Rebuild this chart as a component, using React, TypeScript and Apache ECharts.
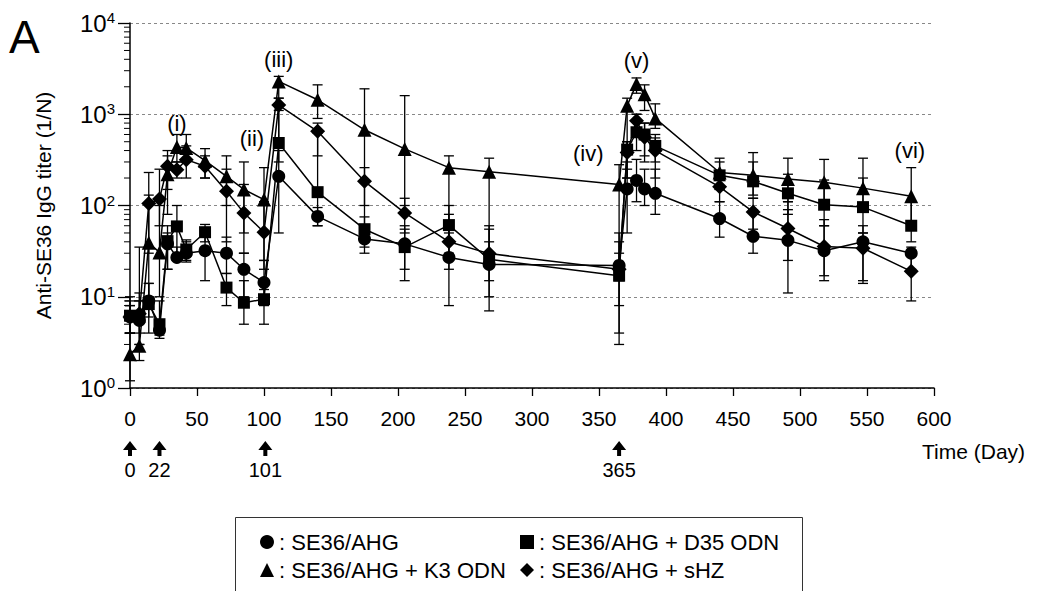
import React, { useEffect, useRef } from "react";
import * as echarts from "echarts";

const days = [0, 7, 14, 22, 28, 35, 42, 56, 72, 85, 100, 111, 140, 175, 205, 238, 268, 365, 371, 378, 384, 392, 440, 465, 491, 518, 547, 583];

// SE36/AHG (circle)
const ahgMean = [6, 5.5, 9, 4.3, 38, 27, 30, 32, 30, 20, 14.3, 209, 76, 43, 38, 27, 22.6, 22, 152, 188, 152, 136, 72, 46, 41.5, 32, 40, 30];
const ahgLow = [4, 3, 6, 3.5, 20, 25, 25, 15, 18, 10, 8, 50, 60, 30, 15, 8, 7, 4, 50, 110, 100, 80, 45, 30, 11, 17, 14, 20];
const ahgHigh = [8, 9, 14, 5, 50, 35, 40, 45, 45, 30, 25, 400, 95, 55, 55, 50, 40, 30, 250, 320, 250, 250, 110, 90, 110, 60, 60, 35];

// SE36/AHG + D35 ODN (square)
const d35Mean = [6.2, 6, 8.3, 5, 40.7, 59, 33, 51, 12.6, 8.6, 9.4, 484, 140, 55, 35, 61, 25.7, 17, 410, 635, 600, 450, 214, 184, 136, 102, 96, 60];
const d35Low = [4, 3, 4, 3.8, 20, 25, 24, 40, 8, 5, 5, 300, 60, 35, 20, 30, 10, 3, 200, 400, 350, 300, 150, 120, 80, 60, 50, 40];
const d35High = [10, 9, 14, 9, 60, 100, 42, 62, 18, 15, 12, 1100, 620, 75, 60, 100, 60, 50, 500, 1000, 800, 600, 300, 300, 220, 190, 200, 110];

// SE36/AHG + K3 ODN (triangle)
const k3Mean = [2.35, 2.9, 39, 30.6, 220, 437, 428, 310, 209, 150, 116, 2290, 1440, 676, 417, 260, 235, 170, 1240, 2150, 1660, 900, 230, 214, 195, 180, 155, 126];
const k3Low = [1.2, 2, 10, 10, 80, 300, 300, 200, 100, 50, 20, 1500, 900, 100, 100, 40, 30, 15, 300, 1700, 1100, 700, 150, 130, 110, 110, 90, 60];
const k3High = [8, 35, 130, 100, 350, 600, 600, 420, 350, 300, 260, 2600, 2100, 1900, 1600, 350, 330, 280, 1500, 2500, 2100, 1300, 330, 380, 330, 320, 330, 260];

// SE36/AHG + sHZ (diamond)
const shzMean = [6, 6.5, 105, 118, 269, 247, 318, 269, 143, 83, 51, 1260, 650, 184, 83, 40, 29.7, 20, 380, 850, 560, 400, 160, 85, 56, 35.5, 34, 19];
const shzLow = [4, 4, 30, 60, 150, 200, 200, 200, 40, 30, 25, 500, 350, 40, 50, 20, 15, 8, 200, 600, 300, 200, 110, 55, 25, 15, 15, 9];
const shzHigh = [9, 11, 230, 250, 400, 300, 450, 350, 250, 170, 110, 1500, 800, 260, 120, 80, 55, 40, 500, 1000, 800, 550, 230, 120, 90, 70, 50, 30];

const vaccinationDays = [0, 22, 101, 365];

const phaseLabels = ["(i)", "(ii)", "(iii)", "(iv)", "(v)", "(vi)"];
const phaseDays = [35, 91, 111, 342, 378, 582];
const phaseValues = [800, 545, 4000, 372, 3900, 405];

const yTickValues = [1, 10, 100, 1000, 10000];
const xTickInterval = 50;

const FONT = "'Liberation Sans', Arial, sans-serif";

const groups = [
  { name: "SE36/AHG", symbol: "circle", size: 13, mean: ahgMean, low: ahgLow, high: ahgHigh },
  { name: "SE36/AHG + D35 ODN", symbol: "rect", size: 12, mean: d35Mean, low: d35Low, high: d35High },
  { name: "SE36/AHG + K3 ODN", symbol: "triangle", size: 14, mean: k3Mean, low: k3Low, high: k3High },
  { name: "SE36/AHG + sHZ", symbol: "diamond", size: 15, mean: shzMean, low: shzLow, high: shzHigh },
];

function minorTickValues(): number[] {
  const out: number[] = [];
  for (let k = 0; k < yTickValues.length - 1; k++) {
    for (let m = 2; m <= 9; m++) out.push(m * yTickValues[k]);
  }
  return out;
}

export default function App() {
  const ref = useRef<HTMLDivElement>(null);

  useEffect(() => {
    if (!ref.current) return;
    const chart = echarts.init(ref.current, null, { renderer: "svg" });

    const lineSeries = groups.map((g) => ({
      name: g.name,
      type: "line",
      data: days.map((d, i) => [d, g.mean[i]]),
      symbol: g.symbol,
      symbolSize: g.size,
      itemStyle: { color: "#000" },
      lineStyle: { color: "#000", width: 1.5 },
      z: 5,
    }));

    const errSeries = groups.map((g) => ({
      name: g.name + " err",
      type: "custom",
      data: days.map((d, i) => [d, g.low[i], g.high[i]]),
      encode: { x: 0, y: [1, 2] },
      z: 3,
      silent: true,
      renderItem: (params: any, api: any) => {
        const x = api.value(0);
        const pLo = api.coord([x, api.value(1)]);
        const pHi = api.coord([x, api.value(2)]);
        const w = 5;
        const style = { stroke: "#000", lineWidth: 1.3 };
        return {
          type: "group",
          children: [
            { type: "line", shape: { x1: pLo[0], y1: pLo[1], x2: pHi[0], y2: pHi[1] }, style },
            { type: "line", shape: { x1: pLo[0] - w, y1: pLo[1], x2: pLo[0] + w, y2: pLo[1] }, style },
            { type: "line", shape: { x1: pHi[0] - w, y1: pHi[1], x2: pHi[0] + w, y2: pHi[1] }, style },
          ],
        };
      },
    }));

    const minorSeries = {
      type: "custom",
      data: minorTickValues().map((v) => [0, v]),
      clip: false,
      silent: true,
      renderItem: (params: any, api: any) => {
        const p = api.coord([0, api.value(1)]);
        return {
          type: "line",
          shape: { x1: p[0] - 6, y1: p[1], x2: p[0], y2: p[1] },
          style: { stroke: "#000", lineWidth: 1 },
        };
      },
    };

    const arrowSeries = {
      type: "custom",
      data: vaccinationDays.map((d) => [d, 1]),
      clip: false,
      silent: true,
      renderItem: (params: any, api: any) => {
        const p = api.coord([api.value(0), 1]);
        const x = p[0];
        const y0 = p[1] + 53;
        return {
          type: "group",
          children: [
            {
              type: "polygon",
              shape: {
                points: [
                  [x, y0],
                  [x - 7, y0 + 9],
                  [x - 2, y0 + 9],
                  [x - 2, y0 + 15],
                  [x + 2, y0 + 15],
                  [x + 2, y0 + 9],
                  [x + 7, y0 + 9],
                ],
              },
              style: { fill: "#000" },
            },
            {
              type: "text",
              x: x,
              y: y0 + 29,
              style: {
                text: String(vaccinationDays[params.dataIndex]),
                fill: "#000",
                font: `20px ${FONT}`,
                align: "center",
                verticalAlign: "middle",
              },
            },
          ],
        };
      },
    };

    const phaseSeries = {
      type: "custom",
      data: phaseDays.map((d, i) => [d, phaseValues[i]]),
      clip: false,
      silent: true,
      z: 6,
      renderItem: (params: any, api: any) => {
        const p = api.coord([api.value(0), api.value(1)]);
        return {
          type: "text",
          x: p[0],
          y: p[1],
          style: {
            text: phaseLabels[params.dataIndex],
            fill: "#000",
            font: `22px ${FONT}`,
            align: "center",
            verticalAlign: "middle",
          },
        };
      },
    };

    const legendText = { fontSize: 22, color: "#000", fontFamily: FONT };

    const option: any = {
      animation: false,
      textStyle: { fontFamily: FONT, color: "#000" },
      grid: { left: 130, right: 109, top: 23, bottom: 203 },
      xAxis: {
        type: "value",
        min: 0,
        max: 600,
        interval: xTickInterval,
        axisLine: { show: true, lineStyle: { color: "#000", width: 1.5 } },
        axisTick: { show: true, length: 8, lineStyle: { color: "#000", width: 1.3 } },
        axisLabel: { fontSize: 21, color: "#000", margin: 20, fontFamily: FONT },
        splitLine: { show: false },
      },
      yAxis: {
        type: "log",
        logBase: 10,
        min: 1,
        max: 10000,
        name: "Anti-SE36 IgG titer (1/N)",
        nameLocation: "middle",
        nameGap: 76,
        nameRotate: 90,
        nameTextStyle: { fontSize: 21, color: "#000", fontFamily: FONT },
        axisLine: { show: true, lineStyle: { color: "#000", width: 1.5 } },
        axisTick: { show: true, length: 12, lineStyle: { color: "#000", width: 1.3 } },
        axisLabel: {
          margin: 15,
          formatter: (v: number) => `{b|10}{s|${Math.round(Math.log10(v))}}`,
          rich: {
            b: { fontSize: 24, fontFamily: FONT, color: "#000", lineHeight: 26 },
            s: { fontSize: 15, fontFamily: FONT, color: "#000", verticalAlign: "top", lineHeight: 14 },
          },
        },
        splitLine: { show: true, lineStyle: { color: "#888", type: [3, 3], width: 1 } },
      },
      legend: [
        {
          orient: "vertical",
          left: 255,
          top: 526,
          itemGap: 6,
          itemWidth: 14,
          itemHeight: 14,
          formatter: ": {name}",
          textStyle: legendText,
          data: [
            { name: "SE36/AHG", icon: "circle" },
            { name: "SE36/AHG + K3 ODN", icon: "triangle" },
          ],
          selectedMode: false,
        },
        {
          orient: "vertical",
          left: 515,
          top: 526,
          itemGap: 6,
          itemWidth: 14,
          itemHeight: 14,
          formatter: ": {name}",
          textStyle: legendText,
          data: [
            { name: "SE36/AHG + D35 ODN", icon: "rect" },
            { name: "SE36/AHG + sHZ", icon: "diamond" },
          ],
          selectedMode: false,
        },
      ],
      graphic: [
        {
          type: "text",
          left: 9,
          top: 14,
          style: { text: "A", font: `46px ${FONT}`, fill: "#000" },
        },
        {
          type: "text",
          left: 922,
          top: 441,
          style: { text: "Time (Day)", font: `21px ${FONT}`, fill: "#000" },
        },
        {
          type: "rect",
          left: 233,
          top: 515,
          shape: { width: 567, height: 90 },
          style: { fill: "none", stroke: "#333", lineWidth: 1 },
        },
      ],
      series: [...errSeries, ...lineSeries, minorSeries, arrowSeries, phaseSeries],
    };

    chart.setOption(option);
    return () => chart.dispose();
  }, []);

  return (
    <div
      ref={ref}
      style={{ position: "fixed", left: 0, top: 0, width: 1043, height: 591, background: "#fff" }}
    />
  );
}
